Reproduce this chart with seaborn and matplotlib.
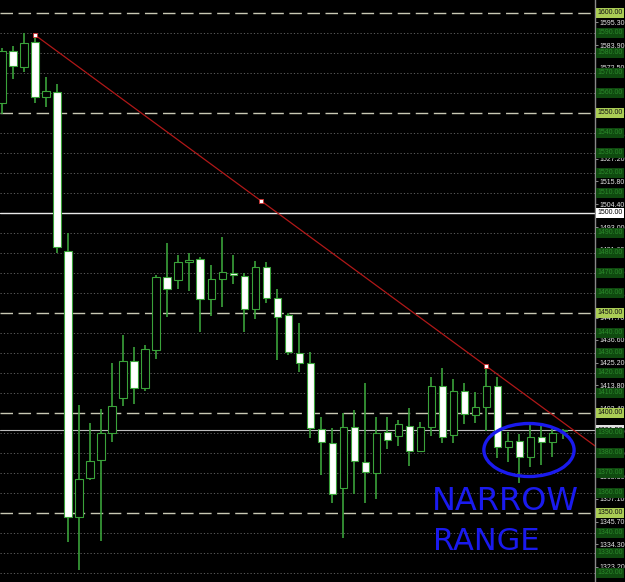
import numpy as np
import pandas as pd
import matplotlib
matplotlib.use("Agg")
import matplotlib.pyplot as plt
from matplotlib.patches import Ellipse
import seaborn as sns

# daily candles
opens = [1555, 1581, 1573, 1585.5, 1558, 1560.5, 1481, 1348, 1367.5, 1376.5, 1390, 1407.5, 1426,
         1412.5, 1431.5, 1468, 1466.5, 1475.5, 1477, 1457, 1467, 1470, 1468.5, 1452, 1473, 1457.5,
         1449, 1430, 1425, 1392, 1385, 1362.5, 1393, 1375.5, 1370, 1390.5, 1388.5, 1393.5, 1381,
         1393, 1413.5, 1389, 1411, 1399, 1403, 1413.5, 1383, 1386, 1378, 1388, 1385.5, 1391]
closes = [1581, 1573.5, 1585, 1558, 1561, 1483, 1348, 1367, 1376, 1390, 1403.5, 1426, 1412.5,
          1432, 1468, 1462, 1475.5, 1476.5, 1457, 1467, 1470.5, 1469, 1452, 1473, 1457.5, 1448,
          1430.5, 1425, 1392.5, 1385.5, 1359.5, 1393, 1376, 1370.5, 1390, 1386.5, 1394.5, 1381,
          1393, 1413.5, 1388, 1411, 1399.5, 1403, 1413.5, 1383, 1386, 1378, 1388, 1385.5, 1390, 1391.5]
highs = [1582.5, 1583.5, 1590, 1589, 1568, 1564.5, 1490, 1404, 1395, 1402, 1425, 1439, 1433,
         1434, 1469, 1485, 1479, 1480, 1478, 1474, 1488, 1479, 1470, 1476, 1475.5, 1462, 1450,
         1445, 1430.5, 1398, 1392.5, 1400, 1401.5, 1415, 1398, 1398, 1396.5, 1402.5, 1395.5,
         1418, 1422.5, 1417, 1415, 1410.5, 1423.5, 1418, 1390.5, 1389.5, 1395, 1394.5, 1392, 1392]
lows = [1549.5, 1567, 1570.5, 1555, 1553, 1480, 1335.5, 1321.5, 1366.5, 1336, 1385.5, 1403.5,
        1404.5, 1411, 1427, 1448, 1462, 1461, 1440.5, 1448.5, 1453, 1464.5, 1440.5, 1447, 1455,
        1426.5, 1429, 1420.5, 1387.5, 1369, 1355, 1337.5, 1359.5, 1355, 1357, 1382, 1383.5,
        1373.5, 1380.5, 1388.5, 1385, 1385, 1394.5, 1395, 1391, 1377.5, 1375.5, 1365, 1373, 1374,
        1378, 1387]

# price scale labels on the right
scale_ticks = [1595.3, 1583.9, 1572.5, 1561.1, 1549.8, 1538.5, 1527.2, 1515.8, 1504.4, 1493.0,
               1481.6, 1470.3, 1458.9, 1447.7, 1436.6, 1425.2, 1413.8, 1402.4, 1391.0, 1379.6,
               1368.3, 1357.1, 1345.7, 1334.3, 1323.2]
round_levels = [1600, 1550, 1450, 1400, 1350]
big_level = 1500
bid = 1391.5

# trendline anchors (candle index, price)
trend_x = [3, 44]
trend_y = [1589, 1423.5]

df = pd.DataFrame({'open': opens, 'high': highs, 'low': lows, 'close': closes})
df['x'] = np.arange(len(df))
df['bull'] = df['close'] >= df['open']

sns.set_style("dark", {"axes.facecolor": "black", "figure.facecolor": "black",
                       "axes.edgecolor": "#808080", "grid.color": "black"})
plt.rcParams['font.family'] = ['Liberation Sans', 'DejaVu Sans']

fig = plt.figure(figsize=(6.25, 5.82), dpi=100)
ax = fig.add_axes([0, 0, 595 / 625, 1])
ax.set_facecolor("black")

# grid every 10 points, long dashes on the 50s
for lv in range(1320, 1601, 10):
    if lv == big_level:
        ax.axhline(lv, color="#e8e8e8", lw=1.0, zorder=1)
    elif lv in round_levels:
        ax.axhline(lv, color="#c8c8b4", lw=1.0, ls=(0, (9, 4)), zorder=1)
    else:
        ax.axhline(lv, color="#6a6a6a", lw=0.6, ls=(0, (1.5, 2.5)), zorder=1)
ax.axhline(bid, color="#bdbdbd", lw=0.8, zorder=1)

green = "#3aa23a"
ax.vlines(df['x'], df['low'], df['high'], color=green, lw=1.2, zorder=2)
body_lo = df[['open', 'close']].min(axis=1)
body_h = (df['close'] - df['open']).abs().clip(lower=0.4)
fills = np.where(df['bull'], "black", "white")
ax.bar(df['x'], body_h, bottom=body_lo, width=0.64, color=fills,
       edgecolor=green, linewidth=0.8, zorder=3)

# trendline ray with its anchor points
slope = (trend_y[1] - trend_y[0]) / (trend_x[1] - trend_x[0])
ray_x = [trend_x[0], 55]
ray_y = [trend_y[0], trend_y[0] + slope * (55 - trend_x[0])]
sns.lineplot(x=ray_x, y=ray_y, ax=ax, color="#b01818", lw=0.9, zorder=4)
mid_x = [(trend_x[0] + trend_x[1]) / 2]
mid_y = [(trend_y[0] + trend_y[1]) / 2]
sns.scatterplot(x=trend_x + mid_x, y=trend_y + mid_y, ax=ax, marker="s", s=10,
                color="white", edgecolor="#d03030", linewidth=0.6, zorder=5)

# hand drawn markup
ax.add_patch(Ellipse((47.9, 1381.5), 8.2, 26.5, fill=False, ec="#1a1aee", lw=2.4, zorder=6))
ax.text(39.1, 1356, "NARROW", color="#1a1aee", fontsize=23, family="DejaVu Sans",
        va="center", ha="left", zorder=6)
ax.text(39.2, 1336, "RANGE", color="#1a1aee", fontsize=22, family="DejaVu Sans",
        va="center", ha="left", zorder=6)

ax.set_xlim(-0.18, 53.9)
ax.set_ylim(1315.5, 1606.5)
ax.set_xticks([])
ax.yaxis.tick_right()
ax.set_yticks(scale_ticks)
ax.set_yticklabels([f"{t:.2f}" for t in scale_ticks])
ax.tick_params(axis="y", colors="#a0a0a0", labelcolor="#e6e6e6", labelsize=5.0,
               length=2.0, width=0.6, pad=1.0, right=True)
ax.grid(False)
for side in ["top", "left", "bottom"]:
    ax.spines[side].set_visible(False)
ax.spines["right"].set_color("#8a8a8a")
ax.spines["right"].set_linewidth(1.0)

# level labels in the price scale
ytr = ax.get_yaxis_transform()
ax.text(1.004, bid, f"{bid:.2f}", transform=ytr, fontsize=5.0, color="black", va="center",
        ha="left", clip_on=False, zorder=7,
        bbox=dict(boxstyle="square,pad=0.2", fc="#e0e0e0", ec="none"))
for lv in range(1320, 1601, 10):
    if lv == big_level:
        fc, tc = "white", "black"
    elif lv in round_levels:
        fc, tc = "#aacd55", "#101010"
    else:
        fc, tc = "#0f4a0f", "#2c8a2c"
    ax.text(1.004, lv, f"{lv:.2f}", transform=ytr, fontsize=5.0, color=tc, va="center",
            ha="left", clip_on=False, zorder=8,
            bbox=dict(boxstyle="square,pad=0.2", fc=fc, ec="none"))

fig.savefig("out.png", dpi=100, facecolor="black")
